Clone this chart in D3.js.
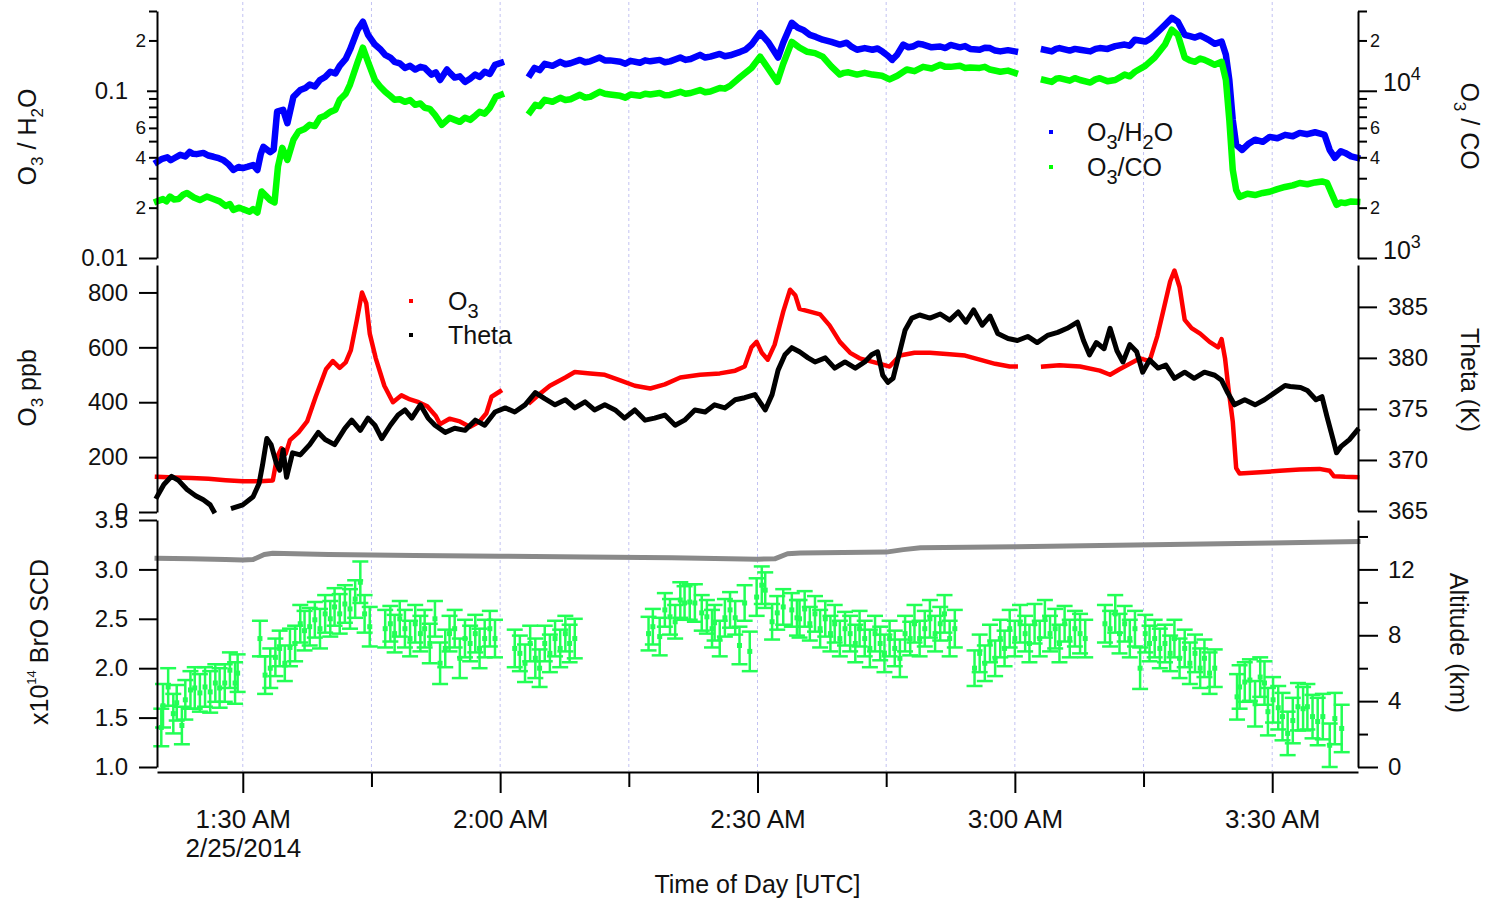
<!DOCTYPE html>
<html>
<head>
<meta charset="utf-8">
<script src="https://cdn.jsdelivr.net/npm/d3@7"></script>
<style>
  body { margin: 0; background: #fff; }
  svg text { font-family: "Liberation Sans", Arial, Helvetica, sans-serif; fill: #111; }
</style>
</head>
<body>
<svg id="chart" width="1489" height="901"></svg>
<script>
"use strict";

// time axis: minutes after 01:20 UTC, 2014-02-25
const dayPrefix = "2014-02-25 ";
const timeStart = "01:20";
const timeEnd = "03:40";
const majorTicks = ["01:30", "02:00", "02:30", "03:00", "03:30"];
const minorTicks = ["01:45", "02:15", "02:45", "03:15"];

const h2oMajorTicks = [0.01, 0.1];
const h2oMajorLabels = ["0.01", "0.1"];
const h2oMinorTicks = [0.02, 0.03, 0.04, 0.05, 0.06, 0.07, 0.08, 0.09, 0.2, 0.3];
const h2oMinorLabels = ["2", "", "4", "", "6", "", "", "", "2", ""];
const coMajorTicks = [1000, 10000];
const coMajorExp = ["3", "4"];
const coMinorTicks = [2000, 3000, 4000, 5000, 6000, 7000, 8000, 9000, 20000, 30000];
const coMinorLabels = ["2", "", "4", "", "6", "", "", "", "2", ""];
const o3Ticks = [0, 200, 400, 600, 800];
const thetaTicks = [365, 370, 375, 380, 385];
const broTicks = [1.0, 1.5, 2.0, 2.5, 3.0, 3.5];
const altTicks = [0, 4, 8, 12];
const altMinorTicks = [2, 6, 10, 14];

// [minute, O3/H2O]
const ratioH2O = [
  [0, 0.0375], [0.6, 0.0392], [1.2, 0.040], [1.6, 0.0385], [2.0, 0.0395], [2.7, 0.0414], [3.3, 0.0405], [3.8, 0.0431],
  [4.2, 0.0420], [4.6, 0.0418], [5.4, 0.0425], [6.0, 0.0410], [6.6, 0.0403], [7.2, 0.0395], [7.7, 0.0386], [8.3, 0.0365],
  [8.9, 0.0336], [9.5, 0.0350], [10.0, 0.0345], [10.6, 0.0352], [11.2, 0.0360], [11.7, 0.0336], [12.1, 0.0420],
  [12.4, 0.0462], [13.2, 0.0430], [13.6, 0.0445], [14.0, 0.0750], [14.7, 0.0770], [15.2, 0.0640], [15.9, 0.0920],
  [16.7, 0.101], [17.3, 0.104], [17.8, 0.109], [18.4, 0.106], [19.0, 0.116], [19.6, 0.121], [20.2, 0.130], [20.8, 0.127],
  [21.3, 0.141], [22.0, 0.155], [22.5, 0.176], [23.4, 0.232], [24.0, 0.259], [24.6, 0.216], [25.4, 0.189], [26.0, 0.178],
  [26.6, 0.164], [27.2, 0.158], [27.7, 0.149], [28.3, 0.146], [28.9, 0.137], [29.5, 0.141], [30.1, 0.134], [30.7, 0.139],
  [31.2, 0.137], [32.0, 0.125], [32.5, 0.129], [33.0, 0.116], [33.8, 0.134], [34.2, 0.127], [34.7, 0.120], [35.3, 0.122],
  [35.9, 0.113], [36.5, 0.118], [37.1, 0.125], [37.6, 0.121], [38.2, 0.130], [38.8, 0.126], [39.4, 0.143], [40.1, 0.147],
  [40.2, null],
  [43.5, 0.125], [44.0, 0.137], [44.6, 0.133], [45.2, 0.145], [46.1, 0.141], [47.0, 0.149], [47.6, 0.144], [48.2, 0.146],
  [49.3, 0.153], [49.9, 0.148], [50.5, 0.150], [51.6, 0.158], [52.2, 0.152], [52.8, 0.152], [54.0, 0.149], [54.6, 0.145],
  [55.2, 0.151], [56.3, 0.147], [56.9, 0.152], [57.5, 0.150], [58.6, 0.153], [59.2, 0.148], [59.8, 0.150], [61.0, 0.158],
  [61.6, 0.153], [62.2, 0.155], [63.3, 0.164], [63.9, 0.158], [64.5, 0.160], [65.6, 0.166], [66.2, 0.161], [66.8, 0.163],
  [68.0, 0.171], [68.6, 0.176], [69.3, 0.189], [70.3, 0.222], [71.3, 0.194], [72.4, 0.158], [73.0, 0.194],
  [74.0, 0.255], [74.7, 0.238], [75.4, 0.230], [76.1, 0.216], [76.8, 0.210], [77.6, 0.202], [78.6, 0.196], [79.6, 0.189],
  [80.4, 0.194], [81.0, 0.183], [81.6, 0.176], [82.5, 0.180], [83.4, 0.176], [84.0, 0.179], [84.6, 0.171], [85.2, 0.162],
  [85.7, 0.153], [86.3, 0.165], [87.0, 0.189], [87.6, 0.182], [88.1, 0.184], [88.7, 0.191], [89.3, 0.189], [90.3, 0.182],
  [91.3, 0.184], [91.9, 0.180], [92.5, 0.188], [93.6, 0.182], [94.2, 0.185], [94.8, 0.178], [95.9, 0.176], [96.5, 0.181],
  [97.1, 0.180], [97.7, 0.174], [98.3, 0.172], [99.2, 0.175], [100.0, 0.172], [100.1, null],
  [103.4, 0.176], [104.3, 0.172], [104.8, 0.178], [105.2, 0.180], [106.4, 0.174], [107.0, 0.178], [107.6, 0.176],
  [108.8, 0.172], [109.4, 0.178], [109.9, 0.180], [110.8, 0.178], [111.7, 0.185], [112.8, 0.189], [113.4, 0.186],
  [114.0, 0.202], [115.2, 0.197], [115.8, 0.205], [116.3, 0.216], [117.5, 0.248], [118.3, 0.273], [119.0, 0.259],
  [119.8, 0.216], [120.4, 0.212], [121.0, 0.208], [121.6, 0.214], [122.1, 0.208], [122.7, 0.200], [123.3, 0.191],
  [124.1, 0.197], [124.6, 0.164], [125.0, 0.116], [125.4, 0.067], [125.8, 0.0475], [126.5, 0.0443], [127.2, 0.0480],
  [128.0, 0.051], [128.9, 0.0495], [129.7, 0.053], [130.6, 0.0520], [131.5, 0.0545], [132.4, 0.0535], [133.2, 0.056],
  [134.1, 0.0550], [135.0, 0.0565], [135.6, 0.0555], [136.1, 0.0545], [136.7, 0.0443], [137.3, 0.0397], [138.0, 0.0435],
  [138.5, 0.0425], [139.2, 0.0405], [139.9, 0.0397]
];

// [minute, O3/CO]
const ratioCO = [
  [0, 2180], [0.7, 2250], [1.1, 2180], [1.5, 2330], [2.0, 2240], [2.5, 2250], [3.0, 2380], [3.5, 2450], [4.3, 2300],
  [5.0, 2220], [5.8, 2330], [6.5, 2260], [7.3, 2180], [8.0, 2050], [8.5, 2100], [8.9, 1940], [9.6, 2000], [10.0, 1960],
  [10.8, 1890], [11.2, 1960], [11.7, 1870], [12.2, 2500], [13.2, 2220], [13.7, 2150], [14.1, 3520], [14.6, 4560],
  [15.2, 3860], [15.9, 5090], [16.5, 5700], [17.2, 5900], [17.8, 6260], [18.4, 6150], [19.0, 6890], [19.6, 7100],
  [20.2, 7480], [20.8, 7700], [21.3, 8830], [22.0, 9600], [22.5, 10900], [23.4, 14900], [24.0, 18100], [24.6, 14900],
  [25.4, 11600], [26.0, 10600], [26.6, 9860], [27.2, 9300], [27.7, 8830], [28.3, 8900], [28.9, 8590], [29.5, 8800],
  [30.1, 8240], [30.7, 8400], [31.2, 7910], [31.8, 7800], [32.4, 7180], [33.2, 6260], [34.1, 6890], [34.7, 6700],
  [35.3, 6520], [35.9, 6900], [36.5, 6700], [37.1, 7100], [37.6, 7480], [38.2, 7300], [38.8, 7910], [39.5, 9210],
  [40.1, 9460], [40.2, null],
  [43.5, 7480], [44.1, 8240], [44.6, 8100], [45.2, 8830], [46.1, 8600], [47.0, 9080], [47.6, 8800], [48.2, 8900],
  [49.3, 9460], [49.9, 9100], [50.5, 9200], [51.6, 9860], [52.2, 9600], [52.8, 9500], [54.0, 9330], [54.6, 9100],
  [55.2, 9500], [56.3, 9330], [56.9, 9600], [57.5, 9500], [58.6, 9700], [59.2, 9400], [59.8, 9450], [61.0, 9860],
  [61.6, 9600], [62.2, 9700], [63.3, 10100], [63.9, 9800], [64.5, 9900], [65.6, 10400], [66.2, 10300], [66.8, 10700],
  [68.0, 12100], [69.3, 13700], [70.3, 16000], [71.2, 13700], [72.3, 11300], [73.0, 14500], [74.0, 19600],
  [74.9, 18100], [75.8, 17100], [76.7, 16800], [77.6, 16000], [78.6, 14000], [79.6, 12500], [80.1, 12800],
  [80.6, 12900], [81.6, 12500], [82.5, 12800], [83.4, 12500], [84.5, 12300], [85.4, 11700], [86.3, 12300],
  [87.4, 13400], [88.3, 13100], [89.3, 13900], [90.3, 13600], [91.3, 14300], [91.9, 13900], [92.5, 13900],
  [93.6, 14100], [94.2, 13700], [94.8, 13800], [95.9, 13700], [96.5, 13900], [97.1, 13400], [98.3, 13000],
  [99.2, 13200], [100.0, 12800], [100.1, null],
  [103.4, 11600], [104.3, 11300], [104.8, 11800], [105.2, 11900], [106.4, 11500], [107.0, 11900], [107.6, 11600],
  [108.8, 11200], [109.4, 11700], [109.9, 11900], [110.8, 11400], [111.7, 11600], [112.8, 12500], [113.4, 12200],
  [114.0, 13000], [115.2, 14100], [116.3, 15800], [117.5, 18900], [118.3, 23200], [119.0, 21600], [119.8, 15800],
  [120.4, 15200], [121.0, 14900], [121.6, 15600], [122.1, 15300], [122.7, 14800], [123.3, 14300], [124.1, 14900],
  [124.6, 11600], [125.0, 6700], [125.4, 3370], [125.8, 2550], [126.2, 2320], [127.1, 2420], [128.0, 2380],
  [128.9, 2450], [129.7, 2490], [130.6, 2580], [131.5, 2660], [132.4, 2720], [133.2, 2810], [134.1, 2760],
  [135.0, 2830], [135.8, 2870], [136.4, 2810], [137.1, 2320], [137.5, 2080], [138.0, 2150], [138.5, 2130],
  [139.2, 2180], [139.9, 2170]
];

// [minute, O3 ppb]
const ozone = [
  [0, 128], [2, 126], [4, 124], [6, 121], [8, 116], [10, 112], [12, 112], [13.5, 115], [14.0, 200], [14.5, 232],
  [15.0, 212], [15.5, 262], [16.5, 290], [17.5, 330], [18.5, 420], [19.7, 520], [20.5, 550], [21.3, 525],
  [22.0, 545], [22.6, 590], [23.3, 700], [23.9, 800], [24.4, 760], [24.8, 650], [25.5, 560], [26.5, 460],
  [27.5, 400], [28.5, 425], [29.5, 410], [30.5, 400], [31.5, 385], [32.5, 350], [33.0, 320], [34.1, 340],
  [35.3, 330], [36.5, 310], [37.6, 330], [38.4, 360], [39.0, 420], [40.0, 440], [40.2, null],
  [43.5, 400], [44.6, 430], [45.8, 460], [47.6, 490], [48.7, 510], [50.5, 505], [52.2, 500], [54.0, 480],
  [55.7, 460], [57.5, 450], [59.2, 465], [61.0, 490], [63.3, 500], [65.6, 505], [67.4, 515], [68.5, 530],
  [69.3, 600], [69.9, 620], [70.5, 580], [71.2, 555], [72.0, 610], [73.0, 730], [73.8, 810], [74.4, 790],
  [74.9, 740], [76.1, 730], [77.3, 720], [78.4, 680], [79.6, 620], [80.8, 580], [81.9, 560], [83.1, 550],
  [84.3, 540], [85.4, 530], [86.6, 570], [88.3, 580], [90.1, 580], [92.4, 575], [94.2, 570], [95.9, 555],
  [97.7, 540], [99.4, 530], [100.1, 530], [100.2, null],
  [103.3, 530], [105.2, 535], [107.6, 530], [109.9, 515], [111.1, 500], [112.2, 520], [113.4, 540], [114.6, 560],
  [115.7, 550], [116.6, 640], [117.2, 720], [118.1, 840], [118.6, 880], [119.2, 820], [119.8, 700], [120.6, 670],
  [121.6, 650], [122.7, 620], [123.7, 600], [124.1, 630], [124.5, 560], [124.9, 450], [125.4, 330], [125.8, 160],
  [126.2, 140], [128.6, 145], [130.9, 150], [133.2, 155], [135.5, 157], [136.7, 150], [137.2, 130], [138.5, 128],
  [139.9, 127]
];

// [minute, potential temperature K]
const theta = [
  [0, 366.4], [0.8, 367.6], [1.7, 368.4], [2.5, 368.0], [3.5, 367.1], [4.5, 366.5], [5.4, 366.1], [6.2, 365.6],
  [6.6, 365.0], [6.7, null],
  [8.9, 365.3], [10.0, 365.6], [11.2, 366.4], [11.9, 367.7], [12.3, 369.5], [12.8, 372.1], [13.3, 371.5],
  [13.9, 369.7], [14.3, 369.0], [14.7, 371.0], [15.1, 368.3], [15.8, 370.7], [16.7, 370.5], [17.8, 371.5],
  [18.8, 372.7], [19.6, 372.0], [20.7, 371.5], [21.9, 373.1], [22.7, 373.9], [23.7, 372.9], [24.6, 374.1],
  [25.4, 373.4], [26.2, 372.1], [27.2, 373.4], [28.1, 374.4], [28.9, 374.9], [29.7, 374.1], [30.7, 375.4],
  [31.6, 374.1], [32.4, 373.4], [33.6, 372.7], [34.7, 373.1], [35.9, 372.9], [37.1, 373.9], [38.2, 373.4],
  [39.4, 374.7], [40.6, 375.1], [41.7, 374.7], [42.9, 375.4], [44.1, 376.6], [45.2, 376.0], [46.4, 375.4],
  [47.6, 375.9], [48.7, 375.1], [49.9, 375.7], [51.0, 374.9], [52.2, 375.4], [53.4, 374.9], [54.5, 374.1],
  [55.7, 374.9], [56.9, 373.9], [58.0, 374.1], [59.2, 374.4], [60.4, 373.4], [61.5, 373.9], [62.7, 374.9],
  [63.9, 374.7], [65.0, 375.4], [66.2, 375.1], [67.4, 375.9], [68.5, 376.1], [69.7, 376.4], [70.9, 374.9],
  [71.7, 376.4], [72.4, 378.8], [73.2, 380.3], [74.0, 381.0], [74.9, 380.6], [75.9, 380.0], [76.7, 379.6],
  [77.9, 380.0], [79.0, 379.0], [80.2, 379.6], [81.4, 379.0], [82.5, 379.6], [83.3, 380.3], [84.0, 380.6],
  [84.6, 378.3], [85.2, 377.6], [85.8, 378.0], [86.4, 380.0], [87.2, 382.7], [88.0, 383.9], [88.9, 384.2],
  [90.1, 383.9], [91.3, 384.3], [92.4, 383.7], [93.4, 384.5], [94.3, 383.5], [95.2, 384.7], [96.2, 383.2],
  [97.1, 384.1], [98.0, 382.4], [99.2, 381.9], [100.3, 381.7], [101.5, 382.1], [102.6, 381.5], [103.8, 382.2],
  [105.0, 382.5], [106.1, 382.9], [107.3, 383.5], [108.0, 381.7], [108.7, 380.3], [109.5, 381.5], [110.4, 380.9],
  [111.1, 382.9], [111.9, 380.7], [112.6, 379.6], [113.4, 381.3], [114.2, 380.6], [114.9, 378.6], [115.7, 379.8],
  [116.7, 379.0], [117.6, 379.3], [118.6, 378.0], [119.8, 378.6], [120.9, 378.0], [122.1, 378.6], [123.3, 378.3],
  [124.1, 377.8], [124.8, 376.6], [125.6, 375.4], [126.8, 375.9], [128.0, 375.4], [129.1, 375.9], [130.3, 376.6],
  [131.5, 377.3], [132.1, 377.2], [133.3, 377.1], [134.1, 376.8], [135.1, 375.9], [135.8, 376.2], [136.4, 374.2],
  [137.1, 372.0], [137.5, 370.7], [138.0, 371.3], [139.0, 372.0], [139.9, 372.9]
];

// [minute, altitude km]
const altitude = [
  [0, 12.68], [4, 12.64], [8, 12.6], [10, 12.57], [11.2, 12.6], [12.5, 12.9], [13.5, 12.98], [20, 12.9],
  [30, 12.85], [40, 12.8], [50, 12.75], [60, 12.7], [70, 12.62], [72, 12.64], [73.5, 12.95], [75, 13.0],
  [85, 13.05], [87, 13.2], [89, 13.32], [100, 13.38], [110, 13.45], [120, 13.52], [130, 13.6], [140, 13.69]
];

// [minute, BrO SCD (x1e14), error]
const bro = [
  [0.5, 1.40, 0.19], [0.7, 1.62, 0.22], [1.3, 1.81, 0.19], [1.9, 1.54, 0.20], [2.3, 1.65, 0.18], [2.9, 1.42, 0.19],
  [3.3, 1.68, 0.20], [3.9, 1.78, 0.19], [4.4, 1.80, 0.21], [5.0, 1.75, 0.19], [5.6, 1.81, 0.20], [6.2, 1.76, 0.21],
  [6.8, 1.85, 0.19], [7.3, 1.80, 0.20], [7.9, 1.85, 0.19], [8.5, 1.98, 0.18], [9.1, 1.85, 0.21], [9.4, 1.95, 0.19],
  [12.0, 2.30, 0.18], [12.6, 1.93, 0.19], [13.2, 2.00, 0.20], [13.8, 2.11, 0.19], [14.3, 2.20, 0.18], [14.9, 2.05, 0.18],
  [15.5, 2.21, 0.19], [16.1, 2.25, 0.18], [16.7, 2.45, 0.19], [17.2, 2.38, 0.20], [17.8, 2.42, 0.19], [18.4, 2.49, 0.18],
  [19.0, 2.40, 0.20], [19.6, 2.55, 0.19], [20.2, 2.50, 0.18], [20.7, 2.62, 0.19], [21.3, 2.55, 0.20], [21.9, 2.65, 0.19],
  [22.5, 2.60, 0.20], [23.1, 2.70, 0.19], [23.7, 2.87, 0.21], [24.2, 2.55, 0.19], [24.8, 2.42, 0.20],
  [26.6, 2.40, 0.19], [27.2, 2.45, 0.18], [27.7, 2.35, 0.19], [28.3, 2.50, 0.18], [28.9, 2.40, 0.19], [29.5, 2.30, 0.18],
  [30.1, 2.45, 0.19], [30.7, 2.35, 0.18], [31.2, 2.40, 0.19], [31.8, 2.25, 0.20], [32.4, 2.50, 0.18], [33.0, 2.05, 0.21],
  [33.6, 2.20, 0.19], [34.1, 2.35, 0.18], [34.7, 2.40, 0.19], [35.3, 2.10, 0.20], [35.9, 2.30, 0.19], [36.5, 2.25, 0.18],
  [37.1, 2.35, 0.19], [37.6, 2.20, 0.20], [38.2, 2.30, 0.19], [38.8, 2.40, 0.18], [39.4, 2.30, 0.19],
  [41.7, 2.20, 0.19], [42.3, 2.15, 0.18], [42.9, 2.05, 0.19], [43.5, 2.25, 0.18], [44.1, 2.10, 0.20], [44.6, 2.00, 0.19],
  [45.2, 2.25, 0.18], [45.8, 2.15, 0.19], [46.4, 2.30, 0.18], [47.0, 2.20, 0.19], [47.6, 2.35, 0.18], [48.1, 2.25, 0.19],
  [48.7, 2.30, 0.20],
  [57.3, 2.35, 0.17], [57.8, 2.42, 0.18], [58.6, 2.32, 0.19], [59.2, 2.59, 0.17], [59.8, 2.52, 0.18], [60.4, 2.47, 0.17],
  [61.0, 2.69, 0.18], [61.5, 2.66, 0.17], [62.1, 2.67, 0.18], [62.7, 2.66, 0.19], [63.5, 2.56, 0.18], [64.1, 2.52, 0.17],
  [64.7, 2.40, 0.19], [65.0, 2.46, 0.18], [65.6, 2.30, 0.18], [66.2, 2.51, 0.19], [66.8, 2.59, 0.18], [67.4, 2.51, 0.17],
  [67.9, 2.23, 0.19], [68.5, 2.66, 0.18], [69.1, 2.17, 0.20], [69.9, 2.72, 0.19], [70.5, 2.84, 0.19], [70.9, 2.79, 0.18],
  [71.7, 2.47, 0.18], [72.3, 2.56, 0.17], [73.0, 2.62, 0.18], [74.0, 2.59, 0.17], [74.6, 2.51, 0.18], [74.9, 2.50, 0.19],
  [75.5, 2.60, 0.18], [76.1, 2.45, 0.17], [76.7, 2.55, 0.18], [77.3, 2.40, 0.19], [77.9, 2.50, 0.18], [78.5, 2.35, 0.18],
  [79.0, 2.45, 0.19], [79.6, 2.30, 0.18], [80.2, 2.40, 0.17], [80.8, 2.35, 0.18], [81.4, 2.25, 0.19], [81.9, 2.40, 0.18],
  [82.5, 2.30, 0.18], [83.1, 2.20, 0.19], [83.7, 2.35, 0.18], [84.3, 2.25, 0.17], [84.8, 2.15, 0.19], [85.4, 2.30, 0.18],
  [86.0, 2.20, 0.18], [86.6, 2.10, 0.19], [87.2, 2.35, 0.18], [87.8, 2.30, 0.17], [88.3, 2.45, 0.19], [88.9, 2.30, 0.18],
  [89.5, 2.40, 0.18], [90.1, 2.50, 0.19], [90.7, 2.35, 0.18], [91.3, 2.45, 0.17], [91.8, 2.55, 0.19], [92.4, 2.30, 0.18],
  [93.0, 2.40, 0.19],
  [95.3, 2.00, 0.18], [95.9, 2.15, 0.19], [96.5, 2.05, 0.18], [97.1, 2.25, 0.19], [97.7, 2.10, 0.18], [98.3, 2.30, 0.19],
  [98.8, 2.20, 0.18], [99.4, 2.40, 0.19], [100.0, 2.30, 0.18], [100.6, 2.45, 0.19], [101.2, 2.35, 0.18], [101.7, 2.25, 0.19],
  [102.3, 2.45, 0.20], [102.9, 2.30, 0.18], [103.5, 2.50, 0.19], [104.1, 2.35, 0.18], [104.7, 2.40, 0.20], [105.2, 2.25, 0.19],
  [105.8, 2.45, 0.18], [106.4, 2.30, 0.19], [107.0, 2.40, 0.18], [107.6, 2.35, 0.20], [108.2, 2.30, 0.19],
  [110.5, 2.45, 0.19], [111.1, 2.40, 0.18], [111.7, 2.55, 0.19], [112.2, 2.35, 0.20], [112.8, 2.45, 0.18], [113.4, 2.30, 0.19],
  [114.0, 2.40, 0.18], [114.6, 2.00, 0.21], [115.2, 2.35, 0.19], [115.7, 2.25, 0.18], [116.3, 2.30, 0.19], [116.9, 2.20, 0.20],
  [117.5, 2.25, 0.19], [118.1, 2.15, 0.18], [118.6, 2.30, 0.19], [119.2, 2.10, 0.20], [119.8, 2.20, 0.19], [120.4, 2.05, 0.21],
  [121.0, 2.15, 0.19], [121.6, 2.00, 0.20], [122.1, 2.10, 0.19], [122.7, 1.95, 0.21], [123.3, 2.00, 0.19],
  [125.9, 1.71, 0.23], [126.2, 1.81, 0.22], [126.8, 1.86, 0.20], [127.4, 1.88, 0.21], [128.0, 1.64, 0.23], [128.6, 1.91, 0.20],
  [129.1, 1.85, 0.22], [129.5, 1.56, 0.24], [130.1, 1.68, 0.23], [130.7, 1.60, 0.22], [131.2, 1.51, 0.24], [131.8, 1.34, 0.22],
  [132.4, 1.47, 0.23], [133.0, 1.61, 0.24], [133.6, 1.59, 0.22], [134.1, 1.61, 0.23], [134.7, 1.51, 0.22], [135.3, 1.46, 0.24],
  [135.9, 1.51, 0.23], [136.7, 1.22, 0.22], [137.3, 1.49, 0.26], [138.1, 1.39, 0.24]
];

const plotLeft = 157;
const plotRight = 1358;
const xAxisY = 772;

const parseTime = d3.utcParse("%Y-%m-%d %H:%M");
const t0 = parseTime(dayPrefix + timeStart);
const t1 = parseTime(dayPrefix + timeEnd);

function toDate(m) {
    return new Date(t0.getTime() + m * 60000);
}

const xScale = d3.scaleUtc().domain([t0, t1]).range([plotLeft, plotRight]);
const yH2O = d3.scaleLog().domain([0.01, 0.3]).range([258, 11]);
const yCO = d3.scaleLog().domain([1000, 30000]).range([258, 11]);
const yO3 = d3.scaleLinear().domain([0, 900]).range([512, 265]);
const yTheta = d3.scaleLinear().domain([365, 389.1]).range([511, 265]);
const yBrO = d3.scaleLinear().domain([1, 3.5]).range([767, 520]);
const yAlt = d3.scaleLinear().domain([0, 15]).range([767, 520]);

const svg = d3.select("#chart");

// adds tspans for normal / sub / sup pieces
function richText(sel, parts, size, subSize, subShift, supShift) {
    let shift = 0;
    parts.forEach(([str, kind]) => {
        const target = kind === "sub" ? subShift : kind === "sup" ? -supShift : 0;
        sel.append("tspan")
            .attr("dy", target - shift)
            .style("font-size", (kind === "n" ? size : subSize) + "px")
            .text(str);
        shift = target;
    });
}

function styleAxis(g, fontSize) {
    g.selectAll(".domain").attr("stroke", "#000").attr("stroke-width", 2);
    g.selectAll(".tick line").attr("stroke", "#000").attr("stroke-width", 2);
    g.selectAll(".tick text").attr("fill", "#111").style("font-size", fontSize + "px");
    return g;
}

function addAxis(gen, tx, ty, fontSize, keepDomain) {
    const g = svg.append("g").attr("transform", `translate(${tx},${ty})`).call(gen);
    styleAxis(g, fontSize);
    if (!keepDomain) g.select(".domain").remove();
    return g;
}

function drawLine(data, yScale, color, width) {
    const line = d3.line()
        .defined(d => d[1] !== null)
        .x(d => xScale(toDate(d[0])))
        .y(d => yScale(d[1]));
    svg.append("path")
        .datum(data)
        .attr("d", line)
        .attr("fill", "none")
        .attr("stroke", color)
        .attr("stroke-width", width)
        .attr("stroke-linejoin", "round")
        .attr("stroke-linecap", "square");
}

// dotted grid
const gridTimes = majorTicks.concat(minorTicks).map(s => parseTime(dayPrefix + s));
svg.append("g").selectAll("line")
    .data(gridTimes)
    .join("line")
    .attr("x1", d => xScale(d))
    .attr("x2", d => xScale(d))
    .attr("y1", 2)
    .attr("y2", 771)
    .attr("stroke", "#c2c2f2")
    .attr("stroke-width", 1)
    .attr("stroke-dasharray", "3,3");

// bottom panel
drawLine(altitude, yAlt, "#8a8a8a", 5);

const broColor = "#22ff55";
const broG = svg.append("g").attr("stroke", broColor).attr("stroke-width", 2.5);
broG.selectAll("line.bar")
    .data(bro)
    .join("line")
    .attr("class", "bar")
    .attr("x1", d => xScale(toDate(d[0])))
    .attr("x2", d => xScale(toDate(d[0])))
    .attr("y1", d => yBrO(d[1] - d[2]))
    .attr("y2", d => yBrO(d[1] + d[2]));
broG.selectAll("line.capTop")
    .data(bro)
    .join("line")
    .attr("class", "capTop")
    .attr("x1", d => xScale(toDate(d[0])) - 8)
    .attr("x2", d => xScale(toDate(d[0])) + 8)
    .attr("y1", d => yBrO(d[1] + d[2]))
    .attr("y2", d => yBrO(d[1] + d[2]));
broG.selectAll("line.capBot")
    .data(bro)
    .join("line")
    .attr("class", "capBot")
    .attr("x1", d => xScale(toDate(d[0])) - 8)
    .attr("x2", d => xScale(toDate(d[0])) + 8)
    .attr("y1", d => yBrO(d[1] - d[2]))
    .attr("y2", d => yBrO(d[1] - d[2]));
broG.selectAll("rect")
    .data(bro)
    .join("rect")
    .attr("x", d => xScale(toDate(d[0])) - 2.5)
    .attr("y", d => yBrO(d[1]) - 2.5)
    .attr("width", 5)
    .attr("height", 5)
    .attr("fill", broColor)
    .attr("stroke", "none");

// top panel
drawLine(ratioH2O, yH2O, "#0000ff", 6.5);
drawLine(ratioCO, yCO, "#00ff00", 6.5);

// middle panel
drawLine(ozone, yO3, "#ff0000", 4.5);
drawLine(theta, yTheta, "#000000", 5);

// ---- axes ----
// top left (log)
addAxis(d3.axisLeft(yH2O).tickValues([h2oMajorTicks[0]]).tickSize(18).tickSizeOuter(0)
    .tickPadding(11).tickFormat(() => h2oMajorLabels[0]), plotLeft, 0, 24, true);
addAxis(d3.axisLeft(yH2O).tickValues([h2oMajorTicks[1]]).tickSize(10)
    .tickPadding(19).tickFormat(() => h2oMajorLabels[1]), plotLeft, 0, 24, false);
addAxis(d3.axisLeft(yH2O).tickValues(h2oMinorTicks).tickSize(8).tickPadding(3)
    .tickFormat((d, i) => h2oMinorLabels[i]), plotLeft, 0, 19, false);

// top right (log)
const coMajorG = addAxis(d3.axisRight(yCO).tickValues(coMajorTicks).tickSize(19).tickSizeOuter(0)
    .tickPadding(6).tickFormat(() => ""), plotRight, 0, 25, true);
coMajorG.selectAll(".tick text").each(function (d, i) {
    const t = d3.select(this).attr("dy", "0.62em");
    richText(t, [["10", "n"], [coMajorExp[i], "sup"]], 25, 18, 0, 11);
});
addAxis(d3.axisRight(yCO).tickValues(coMinorTicks).tickSize(9).tickPadding(3)
    .tickFormat((d, i) => coMinorLabels[i]), plotRight, 0, 18, false);

// middle
addAxis(d3.axisLeft(yO3).tickValues(o3Ticks).tickSize(18).tickSizeOuter(0).tickPadding(11)
    .tickFormat(d3.format("d")), plotLeft, 0, 24, true);
addAxis(d3.axisRight(yTheta).tickValues(thetaTicks).tickSize(19).tickSizeOuter(0).tickPadding(11)
    .tickFormat(d3.format("d")), plotRight, 0, 24, true);

// bottom
addAxis(d3.axisLeft(yBrO).tickValues(broTicks).tickSize(18).tickSizeOuter(0).tickPadding(11)
    .tickFormat(d3.format(".1f")), plotLeft, 0, 24, true);
addAxis(d3.axisRight(yAlt).tickValues(altTicks).tickSize(20).tickSizeOuter(0).tickPadding(10)
    .tickFormat(d3.format("d")), plotRight, 0, 24, true);
addAxis(d3.axisRight(yAlt).tickValues(altMinorTicks).tickSize(10).tickFormat(() => ""),
    plotRight, 0, 24, false);

// time axis
const fmtTime = d3.utcFormat("%-I:%M %p");
const xMajor = addAxis(d3.axisBottom(xScale)
    .tickValues(majorTicks.map(s => parseTime(dayPrefix + s)))
    .tickSize(21).tickSizeOuter(0).tickFormat(fmtTime), 0, xAxisY, 26, true);
xMajor.selectAll(".tick text").attr("y", 56).attr("dy", 0);
xMajor.select(".tick text")
    .append("tspan")
    .attr("x", 0)
    .attr("dy", 29)
    .text(d3.utcFormat("%-m/%-d/%Y")(t0));
addAxis(d3.axisBottom(xScale)
    .tickValues(minorTicks.map(s => parseTime(dayPrefix + s)))
    .tickSize(15).tickFormat(() => ""), 0, xAxisY, 26, false);

svg.append("text")
    .attr("x", (plotLeft + plotRight) / 2)
    .attr("y", 893)
    .attr("text-anchor", "middle")
    .style("font-size", "25px")
    .text("Time of Day [UTC]");

// axis titles
function title(x, y, angle, parts, subShift) {
    const t = svg.append("text")
        .attr("transform", `translate(${x},${y}) rotate(${angle})`)
        .attr("text-anchor", "middle");
    richText(t, parts, 25, 17, subShift, 12);
    return t;
}
title(36, 137, -90, [["O", "n"], ["3", "sub"], [" / H", "n"], ["2", "sub"], ["O", "n"]], 7);
title(36, 388, -90, [["O", "n"], ["3", "sub"], [" ppb", "n"]], 7);
const broTitle = svg.append("text")
    .attr("transform", "translate(48,642) rotate(-90)")
    .attr("text-anchor", "middle");
richText(broTitle, [["x10", "n"], ["14", "sup"], [" BrO SCD", "n"]], 25, 13, 0, 12);
title(1461, 126, 90, [["O", "n"], ["3", "sub"], [" / CO", "n"]], 7);
title(1461, 380, 90, [["Theta (K)", "n"]], 7);
title(1450, 643, 90, [["Altitude (km)", "n"]], 7);

// legends
const legendTop = [
    { color: "#0000ff", y: 132, parts: [["O", "n"], ["3", "sub"], ["/H", "n"], ["2", "sub"], ["O", "n"]] },
    { color: "#00ff00", y: 167, parts: [["O", "n"], ["3", "sub"], ["/CO", "n"]] }
];
const legendMid = [
    { color: "#ff0000", y: 301, parts: [["O", "n"], ["3", "sub"]] },
    { color: "#000000", y: 335, parts: [["Theta", "n"]] }
];

function drawLegend(items, markX, textX) {
    items.forEach(item => {
        svg.append("rect")
            .attr("x", markX - 2)
            .attr("y", item.y - 2)
            .attr("width", 4)
            .attr("height", 4)
            .attr("fill", item.color);
        const t = svg.append("text")
            .attr("x", textX)
            .attr("y", item.y + 9);
        richText(t, item.parts, 25, 20, 8, 0);
    });
}
drawLegend(legendTop, 1051, 1087);
drawLegend(legendMid, 411, 448);
</script>
</body>
</html>
